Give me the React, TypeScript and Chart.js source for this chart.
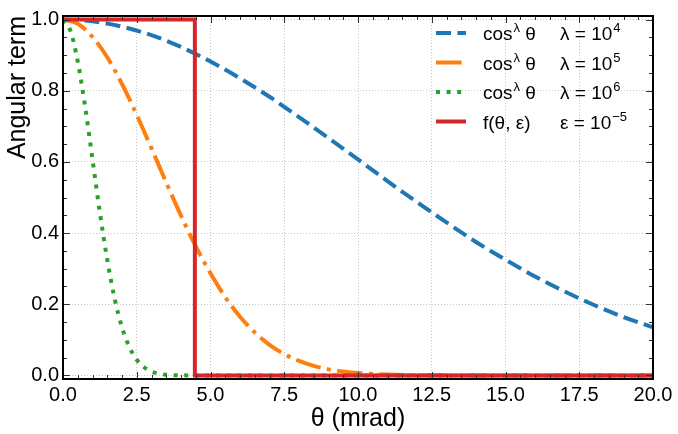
import { useEffect, useRef } from 'react';
import { Chart, registerables } from 'chart.js';

Chart.register(...registerables);

// values
const BLUE_X = [0, 1, 2, 3, 4, 5, 6, 7, 8, 9, 10, 11, 12, 13, 14, 15, 16, 17, 18, 19, 20];
const BLUE_Y = [1, 0.995, 0.98, 0.956, 0.923, 0.882, 0.835, 0.783, 0.726, 0.667, 0.607, 0.546, 0.487, 0.43, 0.375, 0.325, 0.278, 0.236, 0.198, 0.164, 0.135];

const ORANGE_X = [0, 0.5, 1, 1.5, 2, 2.5, 3, 3.5, 4, 4.5, 5, 5.5, 6, 6.5, 7, 7.5, 8, 8.5, 9, 9.5, 10, 11, 12, 13, 14, 20];
const ORANGE_Y = [1, 0.988, 0.951, 0.894, 0.819, 0.732, 0.638, 0.542, 0.449, 0.363, 0.287, 0.22, 0.165, 0.121, 0.086, 0.06, 0.041, 0.027, 0.017, 0.011, 0.0067, 0.0024, 0.0007, 0.0002, 0, 0];

const GREEN_X = [0, 0.25, 0.5, 0.75, 1, 1.25, 1.5, 1.75, 2, 2.25, 2.5, 2.75, 3, 3.25, 3.5, 4, 5, 20];
const GREEN_Y = [1, 0.969, 0.882, 0.755, 0.607, 0.458, 0.325, 0.216, 0.135, 0.08, 0.044, 0.023, 0.011, 0.005, 0.002, 0.0003, 0, 0];

const RED_X = [0, 4.47, 4.47, 20];
const RED_Y = [1, 1, 0, 0];

const X_TICKS = [0, 2.5, 5, 7.5, 10, 12.5, 15, 17.5, 20];
const Y_TICKS = [0, 0.2, 0.4, 0.6, 0.8, 1.0];
const X_MINOR_STEP = 0.5;
const Y_MINOR_STEP = 0.05;

const LEGEND = [
  { name: 'cos', sup: 'λ', tail: ' θ', param: 'λ = 10', exp: '4' },
  { name: 'cos', sup: 'λ', tail: ' θ', param: 'λ = 10', exp: '5' },
  { name: 'cos', sup: 'λ', tail: ' θ', param: 'λ = 10', exp: '6' },
  { name: 'f(θ, ε)', sup: '', tail: '', param: 'ε = 10', exp: '−5' },
];

const FONT = '"Liberation Sans", Arial, sans-serif';
const BLUE = '#1f77b4';
const ORANGE = '#ff7f0e';
const GREEN = '#2ca02c';
const RED = '#d62728';

const LW = 4;
const DASHES = [[15, 6.4], [25.6, 6.4, 4, 6.4], [4, 6.6], []];
const COLORS = [BLUE, ORANGE, GREEN, RED];

const pts = (xs: number[], ys: number[]) => xs.map((x, i) => ({ x, y: ys[i] }));

const decorPlugin = {
  id: 'decor',
  afterDraw(chart: any) {
    const { ctx, chartArea } = chart;
    const { left, right, top, bottom } = chartArea;
    const xs = chart.scales.x;
    const ys = chart.scales.y;
    ctx.save();

    // inward ticks on all four sides
    ctx.strokeStyle = '#333';
    ctx.lineWidth = 1;
    ctx.setLineDash([]);
    const seg = (x1: number, y1: number, x2: number, y2: number) => {
      ctx.beginPath();
      ctx.moveTo(x1, y1);
      ctx.lineTo(x2, y2);
      ctx.stroke();
    };
    for (let i = 0; i <= 40; i++) {
      const v = i * X_MINOR_STEP;
      const len = X_TICKS.includes(v) ? 7 : 4;
      const px = Math.round(xs.getPixelForValue(v)) + 0.5;
      seg(px, bottom, px, bottom - len);
      seg(px, top, px, top + len);
    }
    for (let i = 0; i <= 20; i++) {
      const v = +(i * Y_MINOR_STEP).toFixed(2);
      const len = Y_TICKS.includes(v) ? 7 : 4;
      const py = Math.round(ys.getPixelForValue(v)) + 0.5;
      seg(left, py, left + len, py);
      seg(right, py, right - len, py);
    }

    // frame
    ctx.strokeStyle = '#000';
    ctx.lineWidth = 2;
    ctx.strokeRect(left, top, right - left, bottom - top);

    // axis titles
    ctx.fillStyle = '#000';
    ctx.font = `25px ${FONT}`;
    ctx.textBaseline = 'alphabetic';
    ctx.textAlign = 'center';
    ctx.fillText('θ (mrad)', (left + right) / 2, 426);
    ctx.save();
    ctx.translate(25, top);
    ctx.rotate(-Math.PI / 2);
    ctx.textAlign = 'right';
    ctx.fillText('Angular term', 0, 0);
    ctx.restore();

    // legend
    ctx.textAlign = 'left';
    LEGEND.forEach((item, i) => {
      const rowY = 33 + i * 29.5;
      ctx.strokeStyle = COLORS[i];
      ctx.lineWidth = LW;
      ctx.lineCap = 'butt';
      ctx.setLineDash(DASHES[i]);
      seg(436, rowY, 466, rowY);
      ctx.setLineDash([]);

      const base = rowY + 7;
      let x = 483;
      ctx.font = `19px ${FONT}`;
      ctx.fillText(item.name, x, base);
      x += ctx.measureText(item.name).width + 1;
      if (item.sup) {
        ctx.font = `13px ${FONT}`;
        ctx.fillText(item.sup, x, base - 8);
        x += ctx.measureText(item.sup).width;
        ctx.font = `19px ${FONT}`;
        ctx.fillText(item.tail, x, base);
      }
      x = 560;
      ctx.font = `19px ${FONT}`;
      ctx.fillText(item.param, x, base);
      x += ctx.measureText(item.param).width + 1;
      ctx.font = `13px ${FONT}`;
      ctx.fillText(item.exp, x, base - 8);
    });
    ctx.restore();
  },
};

export default function App() {
  const canvasRef = useRef<HTMLCanvasElement | null>(null);

  useEffect(() => {
    document.body.style.margin = '0';
    if (!canvasRef.current) return;

    const line = (xs: number[], ys: number[], i: number, smooth: boolean) => ({
      data: pts(xs, ys),
      borderColor: COLORS[i],
      borderWidth: LW,
      borderDash: DASHES[i],
      borderCapStyle: 'butt' as const,
      borderJoinStyle: 'miter' as const,
      pointRadius: 0,
      tension: 0,
      cubicInterpolationMode: smooth ? ('monotone' as const) : ('default' as const),
      fill: false,
      order: 3 - i,
    });

    const chart = new Chart(canvasRef.current, {
      type: 'line',
      data: {
        datasets: [
          line(BLUE_X, BLUE_Y, 0, true),
          line(ORANGE_X, ORANGE_Y, 1, true),
          line(GREEN_X, GREEN_Y, 2, true),
          line(RED_X, RED_Y, 3, false),
        ],
      },
      options: {
        animation: false,
        responsive: true,
        maintainAspectRatio: false,
        layout: { padding: { left: 0, right: 25, top: 7, bottom: 0 } },
        scales: {
          x: {
            type: 'linear',
            min: 0,
            max: 20,
            afterBuildTicks: (s: any) => {
              s.ticks = X_TICKS.map((value) => ({ value }));
            },
            afterFit: (s: any) => {
              s.height = 55;
            },
            ticks: {
              color: '#000',
              padding: 4,
              maxRotation: 0,
              autoSkip: false,
              font: { size: 20, family: FONT },
              callback: (v: any) => Number(v).toFixed(1),
            },
            grid: { color: '#c8c8c8', lineWidth: 1, drawTicks: false },
            border: { display: false, dash: [1, 2] },
          },
          y: {
            type: 'linear',
            min: -0.01,
            max: 1.01,
            afterBuildTicks: (s: any) => {
              s.ticks = Y_TICKS.map((value) => ({ value }));
            },
            afterFit: (s: any) => {
              s.width = 63;
            },
            ticks: {
              color: '#000',
              padding: 4,
              autoSkip: false,
              font: { size: 20, family: FONT },
              callback: (v: any) => Number(v).toFixed(1),
            },
            grid: { color: '#c8c8c8', lineWidth: 1, drawTicks: false },
            border: { display: false, dash: [1, 2] },
          },
        },
        plugins: {
          legend: { display: false },
          tooltip: { enabled: false },
        },
      },
      plugins: [decorPlugin],
    });

    return () => {
      chart.destroy();
    };
  }, []);

  return (
    <div style={{ position: 'relative', width: 678, height: 434, background: '#fff' }}>
      <canvas ref={canvasRef} />
    </div>
  );
}
